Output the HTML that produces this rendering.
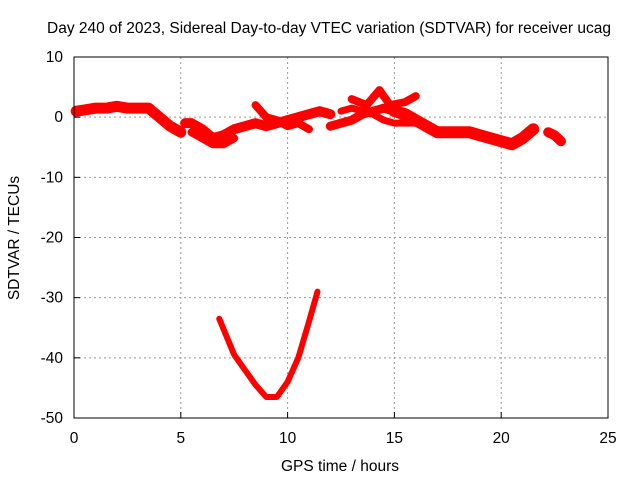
<!DOCTYPE html>
<html><head><meta charset="utf-8"><style>
body{margin:0;background:#fff}
svg{display:block;font-family:"Liberation Sans",sans-serif;font-size:15.5px}
</style></head><body>
<svg id="c" width="640" height="480">
<text x="47" y="33" text-anchor="start">Day 240 of 2023, Sidereal Day-to-day VTEC variation (SDTVAR) for receiver ucag</text>
<g id="grid"></g>
<g id="axes"></g>
<g id="marks"></g>
<rect x="74" y="57" width="534" height="361" fill="none" stroke="#000"/>
<text x="340" y="471" text-anchor="middle">GPS time / hours</text>
<text transform="translate(19,238) rotate(-90)" text-anchor="middle">SDTVAR / TECUs</text>
</svg>
<script>
const xTicks=[0,5,10,15,20,25];
const yTicks=[10,0,-10,-20,-30,-40,-50];
const trackAx=[0.1,0.5,1,1.5,2,2.5,3,3.5,4,4.5,5];
const trackAy=[1,1.2,1.5,1.5,1.8,1.5,1.5,1.5,0,-1.5,-2.5];
const trackBx=[5.2,5.5,6,6.5,7,7.5,8,8.5,9,9.5,10,10.5,11,11.5,12];
const trackBy=[-1,-1,-2,-3.5,-3,-2,-1.5,-1,-1.5,-1,-0.5,0,0.5,1,0.5];
const trackB2x=[5.5,6,6.5,7,7.5];
const trackB2y=[-2.5,-3.5,-4.5,-4.5,-3.5];
const trackCx=[8.5,9,9.5,10,10.5,11];
const trackCy=[2,0,-0.5,-1.5,-1,-2];
const trackDx=[12,12.5,13,13.5,14,14.5,15,15.5];
const trackDy=[-1.5,-1,-0.5,0.5,1,1.5,1,0];
const trackD2x=[12.5,13,13.5,14,14.5,15,15.5,16];
const trackD2y=[1,1.5,1,0.5,-0.5,-1,-1,-1];
const trackEx=[13,13.7,14.3,14.8,15.5,16];
const trackEy=[3,2,4.5,2,2.5,3.5];
const trackFx=[15,15.5,16,16.5,17,17.5,18,18.5,19,19.5,20,20.5,21,21.5];
const trackFy=[1,0.5,-0.5,-1.5,-2.5,-2.5,-2.5,-2.5,-3,-3.5,-4,-4.5,-3.5,-2];
const trackGx=[22.2,22.5,22.8];
const trackGy=[-2.5,-3,-4];
const trackVx=[6.8,7.5,8,8.5,9,9.5,10,10.5,11,11.4];
const trackVy=[-33.5,-39.5,-42,-44.5,-46.5,-46.5,-44,-40,-34,-29];
const X=v=>74+v*(534/25), Y=v=>57+(10-v)*(361/60);
const NS='http://www.w3.org/2000/svg';
function mk(t,a,p){const e=document.createElementNS(NS,t);for(const k in a)e.setAttribute(k,a[k]);p.appendChild(e);return e;}
const grid=document.getElementById('grid'),axes=document.getElementById('axes'),marks=document.getElementById('marks');
xTicks.forEach(t=>{
 if(t>0&&t<25){const l=mk('line',{x1:X(t),x2:X(t),y1:57,y2:418,stroke:'#999','stroke-dasharray':'2,3'},grid);
 
 }
 mk('line',{x1:X(t),x2:X(t),y1:418,y2:412,stroke:'#000'},axes);
 const tx=mk('text',{x:X(t),y:443,'text-anchor':'middle'},axes);tx.textContent=t;
 
 
});
yTicks.forEach(t=>{
 if(t<10&&t>-50){const l=mk('line',{x1:74,x2:608,y1:Y(t),y2:Y(t),stroke:'#999','stroke-dasharray':'2,3'},grid);
 
 }
 mk('line',{x1:74,x2:80,y1:Y(t),y2:Y(t),stroke:'#000'},axes);
 const tx=mk('text',{x:63,y:Y(t)+5,'text-anchor':'end'},axes);tx.textContent=t;
 
 
});
const tracks=[[trackAx,trackAy,11],[trackBx,trackBy,10],[trackB2x,trackB2y,8],[trackCx,trackCy,8],[trackDx,trackDy,9],[trackD2x,trackD2y,7],[trackEx,trackEy,8],[trackFx,trackFy,12],[trackGx,trackGy,10],[trackVx,trackVy,6]];
tracks.forEach(([xs,ys,w])=>{
 const pts=xs.map((x,i)=>X(x)+','+Y(ys[i])).join(' ');
 const p=mk('polyline',{points:pts,fill:'none',stroke:'#f00','stroke-width':w,'stroke-linejoin':'round','stroke-linecap':'round'},marks);
 
 
});
</script>
</body></html>
